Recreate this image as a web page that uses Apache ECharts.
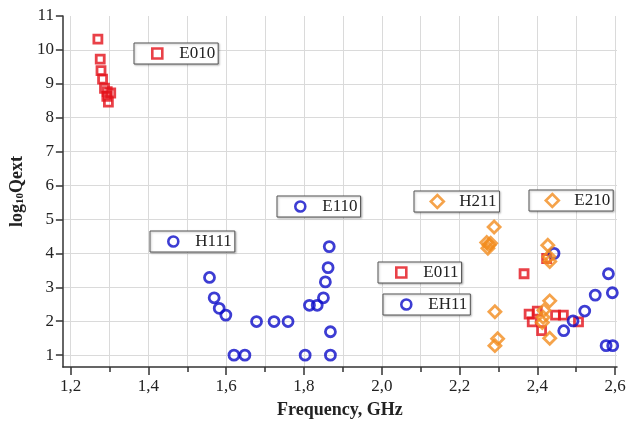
<!DOCTYPE html>
<html>
<head>
<meta charset="utf-8">
<script src="https://cdn.jsdelivr.net/npm/echarts@6/dist/echarts.min.js"></script>
<style>
  html, body { margin: 0; padding: 0; background: #fff; }
  #chart { width: 630px; height: 424px; }
</style>
</head>
<body>
<div id="chart"></div>
<script>
// tick positions
const xMajor = [1.2, 1.4, 1.6, 1.8, 2.0, 2.2, 2.4, 2.6]
const xMinor = [1.3, 1.5, 1.7, 1.9, 2.1, 2.3, 2.5]
const yTicks = [1, 2, 3, 4, 5, 6, 7, 8, 9, 10, 11]
const yGrid = [1, 2, 3, 4, 5, 6, 7, 8, 9, 10]

// modes: frequency (GHz) / log10Qext
const e010X = [1.270, 1.276, 1.278, 1.282, 1.287, 1.294, 1.303, 1.293, 1.297]
const e010Y = [10.32, 9.73, 9.39, 9.14, 8.87, 8.77, 8.73, 8.63, 8.46]

const h111X = [1.557, 1.569, 1.582, 1.599, 1.620, 1.648, 1.678, 1.723, 1.759]
const h111Y = [3.29, 2.69, 2.38, 2.18, 1.0, 1.0, 1.99, 1.99, 1.99]

const e110X = [1.803, 1.814, 1.834, 1.850, 1.855, 1.862, 1.865, 1.868, 1.868]
const e110Y = [1.0, 2.47, 2.47, 2.69, 3.16, 3.58, 4.20, 1.69, 1.0]

const e011X = [2.366, 2.424, 2.379, 2.400, 2.387, 2.411, 2.447, 2.467, 2.506]
const e011Y = [3.40, 3.85, 2.21, 2.30, 1.98, 1.72, 2.18, 2.18, 1.98]

const eh11X = [2.443, 2.468, 2.492, 2.522, 2.549, 2.583, 2.593, 2.577, 2.594]
const eh11Y = [4.0, 1.72, 2.01, 2.30, 2.77, 3.40, 2.84, 1.28, 1.28]

const h211X = [2.289, 2.270, 2.276, 2.280, 2.273, 2.291, 2.298, 2.291]
const h211Y = [4.78, 4.32, 4.25, 4.30, 4.15, 2.28, 1.48, 1.28]

const e210X = [2.427, 2.430, 2.432, 2.432, 2.417, 2.415, 2.413, 2.432]
const e210Y = [4.24, 3.90, 3.76, 2.60, 2.32, 2.12, 1.96, 1.50]

const RED = '#e3121a'
const BLUE = '#0c0cc8'
const ORANGE = '#f28c1e'
const FONT = 'Liberation Serif'
const GRID_LINE = { color: '#dadada', width: 1 }
const AXIS_LINE = { color: '#333', width: 1.5 }

const X_MIN = 1.18, X_MAX = 2.605
const Y_MIN = 0.65, Y_MAX = 11

const scatter = (name, xs, ys, symbol, color, size) => ({
  name,
  type: 'scatter',
  symbol,
  symbolSize: size,
  xAxisIndex: 0,
  yAxisIndex: 0,
  itemStyle: { color: 'rgba(255,255,255,0)', borderColor: color, borderWidth: 2.8 },
  data: xs.map((x, i) => [x, ys[i]])
})

// small boxed legend, one per mode; icon centred 22px in, text 44px in
const box = (name, left, top, size = 10) => ({
  data: [name],
  left,
  top,
  selectedMode: false,
  itemWidth: size,
  itemHeight: size,
  padding: [2, 3, 2, 22 - size / 2],
  backgroundColor: '#fff',
  borderColor: '#555',
  borderWidth: 1,
  shadowColor: 'rgba(0,0,0,0.25)',
  shadowBlur: 2,
  shadowOffsetX: 1,
  shadowOffsetY: 1,
  itemStyle: { borderWidth: 2.6 },
  textStyle: { fontFamily: FONT, fontSize: 17, color: '#222', padding: [0, 0, 0, 17 - size / 2] }
})

const chart = echarts.init(document.getElementById('chart'))

chart.setOption({
  animation: false,
  backgroundColor: '#fff',
  grid: { left: 59, right: 13, top: 16, bottom: 57 },
  legend: [
    box('E010', 134, 43),
    box('E110', 277, 196),
    box('H111', 150, 231),
    box('H211', 414, 191, 13),
    box('E210', 529, 190, 13),
    box('E011', 378, 262),
    box('EH11', 383, 294)
  ],
  xAxis: [
    {
      type: 'value',
      min: X_MIN,
      max: X_MAX,
      position: 'bottom',
      name: 'Frequency, GHz',
      nameLocation: 'middle',
      nameGap: 34,
      nameTextStyle: { fontFamily: FONT, fontSize: 18, fontWeight: 'bold', color: '#222' },
      axisLine: { show: true, lineStyle: AXIS_LINE },
      axisTick: { show: true, customValues: xMajor, length: 8, lineStyle: AXIS_LINE },
      axisLabel: {
        customValues: xMajor,
        margin: 11,
        fontFamily: FONT,
        fontSize: 17,
        color: '#222',
        formatter: v => v.toFixed(1).replace('.', ',')
      },
      splitLine: { show: true, lineStyle: GRID_LINE }
    },
    {
      type: 'value',
      min: X_MIN,
      max: X_MAX,
      position: 'bottom',
      axisLine: { show: false },
      axisLabel: { show: false },
      axisTick: { show: true, customValues: xMinor, length: 5, lineStyle: AXIS_LINE },
      splitLine: { show: true, lineStyle: GRID_LINE }
    }
  ],
  yAxis: [
    {
      type: 'value',
      min: Y_MIN,
      max: Y_MAX,
      position: 'left',
      name: '{b|log}{s|10}{b|Qext}',
      nameLocation: 'middle',
      nameGap: 30,
      nameTextStyle: {
        rich: {
          b: { fontFamily: FONT, fontSize: 18, fontWeight: 'bold', color: '#222' },
          s: { fontFamily: FONT, fontSize: 11, fontWeight: 'bold', color: '#222', verticalAlign: 'bottom', padding: [6, 0, 0, 0] }
        }
      },
      axisLine: { show: true, lineStyle: AXIS_LINE },
      axisTick: { show: true, customValues: yTicks, length: 7, lineStyle: AXIS_LINE },
      axisLabel: {
        customValues: yTicks,
        margin: 9,
        fontFamily: FONT,
        fontSize: 17,
        color: '#222',
        formatter: v => String(Math.round(v))
      },
      splitLine: { show: false }
    },
    {
      type: 'value',
      min: Y_MIN,
      max: Y_MAX,
      position: 'left',
      axisLine: { show: false },
      axisLabel: { show: false },
      axisTick: { show: false, customValues: yGrid },
      splitLine: { show: true, lineStyle: GRID_LINE }
    }
  ],
  series: [
    scatter('E010', e010X, e010Y, 'rect', RED, 8),
    scatter('E011', e011X, e011Y, 'rect', RED, 8),
    scatter('H111', h111X, h111Y, 'circle', BLUE, 10),
    scatter('E110', e110X, e110Y, 'circle', BLUE, 10),
    scatter('EH11', eh11X, eh11Y, 'circle', BLUE, 10),
    scatter('H211', h211X, h211Y, 'diamond', ORANGE, 12),
    scatter('E210', e210X, e210Y, 'diamond', ORANGE, 12)
  ]
})
</script>
</body>
</html>
